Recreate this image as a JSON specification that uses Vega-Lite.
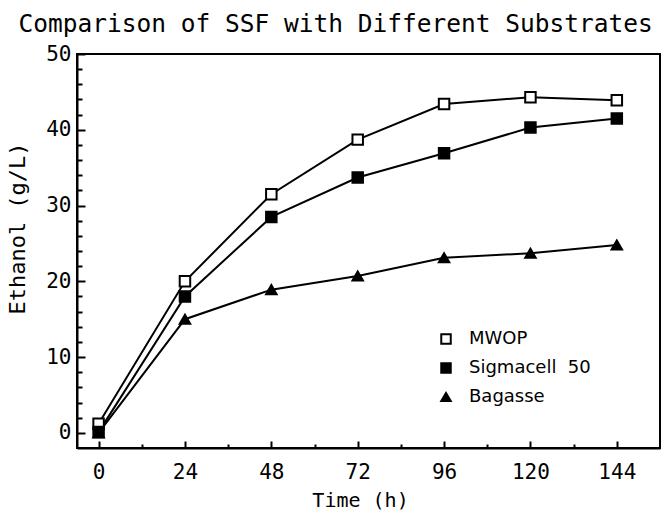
{
  "$schema": "https://vega.github.io/schema/vega-lite/v6.json",
  "width": 583,
  "height": 394,
  "autosize": {"type": "none"},
  "padding": {"left": 77, "top": 54, "right": 7, "bottom": 62},
  "background": "white",
  "title": {
    "text": "Comparison of SSF with Different Substrates",
    "fontSize": 24.5,
    "font": "DejaVu Sans Mono",
    "fontWeight": "normal",
    "anchor": "middle",
    "offset": 6,
    "color": "black",
    "dx": -33
  },
  "config": {
    "view": {"stroke": "black", "strokeWidth": 2},
    "font": "DejaVu Sans Mono",
    "legend": {"symbolStrokeColor": "black", "symbolStrokeWidth": 2}
  },
  "data": {
    "values": [
      {"time": 0, "ethanol": 1.2, "substrate": "MWOP"},
      {"time": 24, "ethanol": 20.0, "substrate": "MWOP"},
      {"time": 48, "ethanol": 31.5, "substrate": "MWOP"},
      {"time": 72, "ethanol": 38.7, "substrate": "MWOP"},
      {"time": 96, "ethanol": 43.4, "substrate": "MWOP"},
      {"time": 120, "ethanol": 44.3, "substrate": "MWOP"},
      {"time": 144, "ethanol": 43.9, "substrate": "MWOP"},
      {"time": 0, "ethanol": 0.1, "substrate": "Sigmacell 50"},
      {"time": 24, "ethanol": 18.0, "substrate": "Sigmacell 50"},
      {"time": 48, "ethanol": 28.5, "substrate": "Sigmacell 50"},
      {"time": 72, "ethanol": 33.7, "substrate": "Sigmacell 50"},
      {"time": 96, "ethanol": 36.9, "substrate": "Sigmacell 50"},
      {"time": 120, "ethanol": 40.3, "substrate": "Sigmacell 50"},
      {"time": 144, "ethanol": 41.5, "substrate": "Sigmacell 50"},
      {"time": 0, "ethanol": 0.0, "substrate": "Bagasse"},
      {"time": 24, "ethanol": 15.0, "substrate": "Bagasse"},
      {"time": 48, "ethanol": 18.9, "substrate": "Bagasse"},
      {"time": 72, "ethanol": 20.7, "substrate": "Bagasse"},
      {"time": 96, "ethanol": 23.1, "substrate": "Bagasse"},
      {"time": 120, "ethanol": 23.7, "substrate": "Bagasse"},
      {"time": 144, "ethanol": 24.8, "substrate": "Bagasse"}
    ]
  },
  "resolve": {"axis": {"x": "independent", "y": "independent"}},
  "layer": [
    {
      "mark": {"type": "line", "color": "black", "strokeWidth": 2},
      "encoding": {
        "detail": {"field": "substrate"},
        "x": {
          "field": "time", "type": "quantitative",
          "scale": {"domain": [-6, 156], "nice": false, "zero": false},
          "axis": {
            "orient": "bottom",
            "title": "Time\u00a0(h)", "titleFontSize": 20, "titleFontWeight": "normal", "titleColor": "black", "titlePadding": 8, "titleX": 283,
            "values": [0, 24, 48, 72, 96, 120, 144],
            "labelFontSize": 21, "labelColor": "black", "labelPadding": 20,
            "grid": false, "domainColor": "black", "domainWidth": 2,
            "tickColor": "black", "tickWidth": 2, "tickSize": -7
          }
        },
        "y": {
          "field": "ethanol", "type": "quantitative",
          "scale": {"domain": [-2, 50], "nice": false, "zero": false},
          "axis": {
            "orient": "left",
            "title": "Ethanol\u00a0(g/L)", "titleFontSize": 22, "titleFontWeight": "normal", "titleColor": "black", "titleX": -48, "titleY": 174,
            "values": [0, 10, 20, 30, 40, 50],
            "labelFontSize": 21, "labelColor": "black", "labelPadding": 14,
            "grid": false, "domainColor": "black", "domainWidth": 2,
            "tickColor": "black", "tickWidth": 2, "tickSize": -8
          }
        }
      }
    },
    {
      "mark": {"type": "point", "filled": true, "strokeWidth": 2, "opacity": 1, "size": 110},
      "encoding": {
        "x": {
          "field": "time", "type": "quantitative",
          "axis": {
            "orient": "bottom", "title": null, "labels": false, "domain": false, "grid": false,
            "values": [12, 36, 60, 84, 108, 132],
            "tickColor": "black", "tickWidth": 2, "tickSize": -4
          }
        },
        "y": {
          "field": "ethanol", "type": "quantitative",
          "axis": {
            "orient": "left", "title": null, "labels": false, "domain": false, "grid": false,
            "values": [2, 4, 6, 8, 12, 14, 16, 18, 22, 24, 26, 28, 32, 34, 36, 38, 42, 44, 46, 48],
            "tickColor": "black", "tickWidth": 2, "tickSize": -5
          }
        },
        "shape": {
          "field": "substrate", "type": "nominal",
          "scale": {"domain": ["MWOP", "Sigmacell 50", "Bagasse"], "range": ["square", "square", "triangle-up"]},
          "legend": {
            "title": null, "orient": "none", "legendX": 360, "legendY": 276,
            "labelFont": "DejaVu Sans", "labelFontSize": 18, "labelColor": "black", "symbolSize": 90,
            "labelExpr": "replace(datum.label, ' ', '\u00a0\u00a0')",
            "rowPadding": 11, "labelOffset": 14
          }
        },
        "fill": {
          "field": "substrate", "type": "nominal",
          "scale": {"domain": ["MWOP", "Sigmacell 50", "Bagasse"], "range": ["white", "black", "black"]},
          "legend": {
            "title": null, "orient": "none", "legendX": 360, "legendY": 276,
            "labelFont": "DejaVu Sans", "labelFontSize": 18, "labelColor": "black", "symbolSize": 90,
            "labelExpr": "replace(datum.label, ' ', '\u00a0\u00a0')",
            "rowPadding": 11, "labelOffset": 14
          }
        },
        "stroke": {
          "field": "substrate", "type": "nominal",
          "scale": {"domain": ["MWOP", "Sigmacell 50", "Bagasse"], "range": ["black", "black", "black"]},
          "legend": {
            "title": null, "orient": "none", "legendX": 360, "legendY": 276,
            "labelFont": "DejaVu Sans", "labelFontSize": 18, "labelColor": "black", "symbolSize": 90,
            "labelExpr": "replace(datum.label, ' ', '\u00a0\u00a0')",
            "rowPadding": 11, "labelOffset": 14
          }
        }
      }
    }
  ]
}
